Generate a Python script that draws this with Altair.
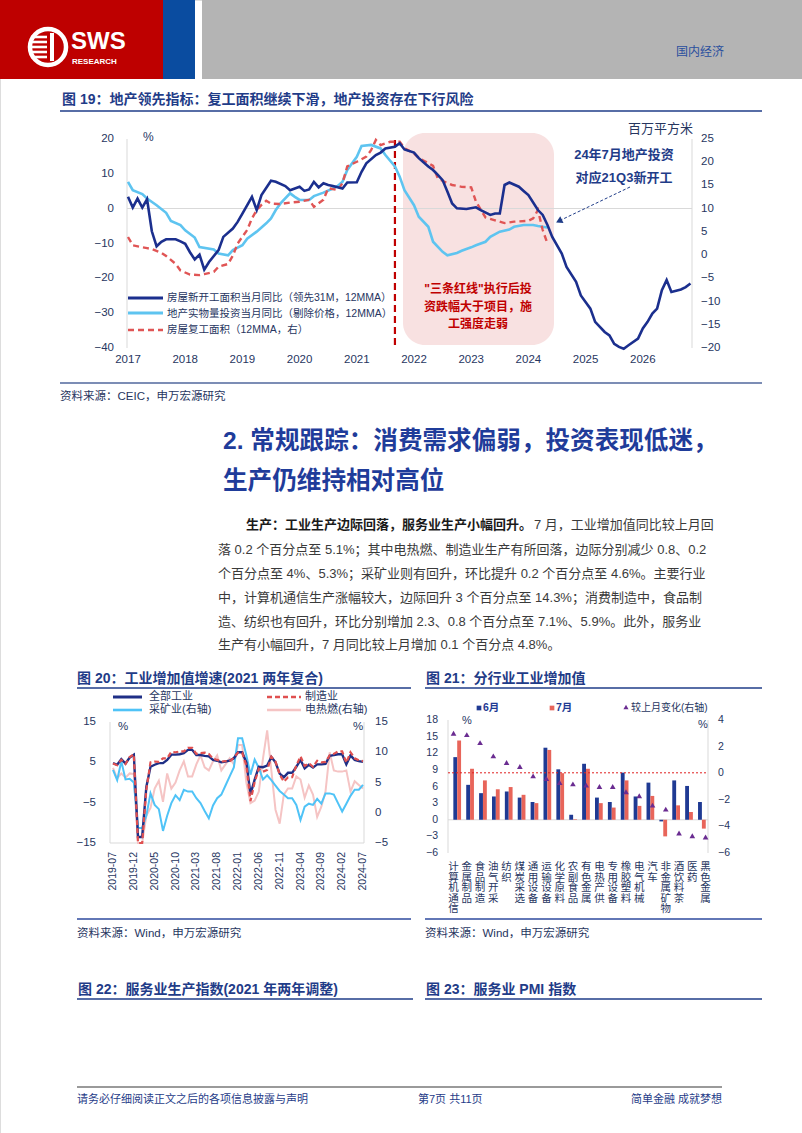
import altair as alt
import pandas as pd

FONT = "Liberation Sans, Noto Sans CJK SC, sans-serif"
TITLE_C = "#1F3C88"
LBL_C = "#27365F"
GRID_C = "#D9D9D9"

# ---------------- Figure 19 data ----------------
f19_new_dates = ["2017-01", "2017-02", "2017-03", "2017-04", "2017-05", "2017-06", "2017-07", "2017-08", "2017-09",
                 "2017-11", "2017-12", "2018-01", "2018-02", "2018-03", "2018-04", "2018-05", "2018-06", "2018-08",
                 "2018-09", "2018-11", "2018-12", "2019-01", "2019-03", "2019-04", "2019-05", "2019-07", "2019-08",
                 "2019-10", "2019-11", "2020-01", "2020-02", "2020-03", "2020-04", "2020-05", "2020-06", "2020-07",
                 "2020-08", "2020-10", "2020-11", "2021-01", "2021-02", "2021-03", "2021-05", "2021-06", "2021-07",
                 "2021-09", "2021-10", "2021-11", "2022-01", "2022-02", "2022-04", "2022-05", "2022-06", "2022-07",
                 "2022-08", "2022-09", "2022-10", "2022-12", "2023-02", "2023-03", "2023-05", "2023-06", "2023-07",
                 "2023-08", "2023-09", "2023-11", "2023-12", "2024-01", "2024-03", "2024-04", "2024-05", "2024-06",
                 "2024-08", "2024-09", "2024-11", "2024-12", "2025-02", "2025-03", "2025-05", "2025-06", "2025-07",
                 "2025-08", "2025-09", "2025-10", "2025-12", "2026-01", "2026-02", "2026-03", "2026-04", "2026-05",
                 "2026-06", "2026-07", "2026-09", "2026-10", "2026-11"]
f19_new_vals = [3.4, 0.3, 2.9, 0.3, 2.7, -6.5, -10.8, -9.5, -8.8,
                -8.8, -9.4, -10.1, -12.5, -14.6, -13.2, -17.5, -15.3, -11.9,
                -8.1, -5.7, -3.8, -1.4, 3.4, -0.4, 3.9, 8.0, 7.7,
                6.5, 5.3, 6.3, 5.1, 5.5, 7.7, 6.1, 7.3, 6.8,
                6.5, 5.8, 7.5, 7.6, 10.6, 13.0, 15.4, 16.1, 17.3,
                17.8, 18.8, 17.0, 16.1, 14.5, 12.1, 11.1, 9.7, 8.2,
                4.9, 1.5, 0.1, -0.1, 0.4, -0.4, -1.8, -1.4, -1.4,
                6.8, 7.5, 6.3, 5.1, 3.9, -0.4, -1.8, -4.7, -8.1,
                -12.9, -16.7, -21.0, -24.9, -28.7, -32.5, -35.4, -36.4, -38.8,
                -39.7, -40.2, -39.2, -37.3, -34.4, -32.5, -30.1, -28.7, -23.4,
                -20.5, -23.9, -23.2, -22.5, -21.5]

f19_inv_dates = ["2017-01", "2017-02", "2017-04", "2017-05", "2017-07", "2017-09", "2017-10", "2017-12", "2018-01",
                 "2018-03", "2018-04", "2018-07", "2018-08", "2018-10", "2018-11", "2019-01", "2019-02", "2019-04",
                 "2019-06", "2019-07", "2019-08", "2019-09", "2019-11", "2019-12", "2020-01", "2020-03", "2020-04",
                 "2020-06", "2020-08", "2020-09", "2020-10", "2020-11", "2021-01", "2021-02", "2021-04", "2021-06",
                 "2021-07", "2021-09", "2021-10", "2021-11", "2022-01", "2022-02", "2022-04", "2022-05", "2022-07",
                 "2022-08", "2022-10", "2022-11", "2023-01", "2023-02", "2023-04", "2023-05", "2023-07", "2023-09",
                 "2023-10", "2023-12", "2024-02", "2024-03", "2024-05"]
f19_inv_vals = [7.7, 5.3, 4.2, 2.9, 1.0, -1.2, -3.5, -4.7, -6.2,
                -8.3, -11.0, -11.7, -12.9, -13.4, -11.9, -10.5, -8.6, -6.6,
                -4.2, -2.8, -0.4, 1.5, 4.4, 3.4, 2.5, 2.5, 3.6,
                4.6, 5.8, 6.5, 7.7, 11.1, 14.9, 18.0, 18.3, 17.3,
                15.4, 12.1, 9.2, 5.3, 1.0, -2.3, -5.2, -9.5, -12.4,
                -13.4, -12.7, -12.1, -11.1, -10.5, -9.5, -8.1, -6.6, -6.0,
                -5.2, -4.7, -4.7, -5.0, -5.4]

f19_res_dates = ["2017-01", "2017-02", "2017-05", "2017-06", "2017-08", "2017-09", "2017-11", "2017-12", "2018-02",
                 "2018-04", "2018-05", "2018-07", "2018-08", "2018-10", "2018-11", "2018-12", "2019-02", "2019-03",
                 "2019-04", "2019-05", "2019-06", "2019-07", "2019-09", "2019-11", "2020-01", "2020-03", "2020-04",
                 "2020-06", "2020-07", "2020-09", "2020-10", "2020-11", "2021-01", "2021-03", "2021-04", "2021-05",
                 "2021-06", "2021-08", "2021-10", "2021-11", "2022-01", "2022-02", "2022-04", "2022-05", "2022-06",
                 "2022-08", "2022-09", "2022-11", "2023-01", "2023-02", "2023-04", "2023-06", "2023-08", "2023-10",
                 "2024-01", "2024-02", "2024-03", "2024-04", "2024-05"]
f19_res_vals = [3.9, 2.1, 1.5, 1.3, 0.5, -0.2, -1.9, -3.3, -4.2,
                -4.3, -4.1, -3.6, -2.5, -1.9, -0.1, 2.5, 5.4, 7.9,
                9.7, 10.8, 11.7, 11.1, 11.0, 11.3, 11.5, 11.9, 10.4,
                11.9, 14.4, 14.0, 15.5, 19.1, 20.1, 21.2, 22.6, 24.8,
                23.7, 24.4, 24.4, 23.0, 21.9, 20.9, 19.8, 19.2, 16.5,
                15.5, 15.1, 14.7, 14.6, 11.5, 8.1, 7.5, 6.9, 7.2,
                7.4, 7.9, 9.7, 5.4, 2.5]

f19_policy_date = ["2021-09"]
f19_years = [2017, 2018, 2019, 2020, 2021, 2022, 2023, 2024, 2025, 2026]
f19_left_ticks = [20, 10, 0, -10, -20, -30, -40]
f19_right_ticks = [25, 20, 15, 10, 5, 0, -5, -10, -15, -20]

# ---------------- Figure 20 data ----------------
f20_months = [str(p) for p in pd.period_range("2019-07", "2024-07", freq="M")]
f20_total = [4.8, 4.4, 5.8, 4.7, 6.2, 6.9,
             -13.5, -13.5, -1.1, 3.9, 4.4, 4.8, 4.8, 5.6, 6.9, 6.9, 7.0, 7.3,
             8.1, 8.1, 6.8, 6.8, 6.6, 6.5, 5.6, 5.4, 5.0, 5.2, 5.4, 6.0,
             7.5, 7.5, 5.0, -2.9, 0.7, 3.9, 3.8, 4.2, 6.3, 5.0, 2.2, 1.3,
             2.4, 2.4, 3.9, 5.6, 3.5, 4.4, 3.7, 4.5, 4.5, 4.6, 6.6, 6.8,
             7.0, 7.0, 4.5, 6.7, 5.6, 5.3, 5.1]
f20_manu = [4.7, 4.3, 5.6, 4.6, 6.3, 7.0,
            -15.0, -15.0, -1.8, 5.0, 5.2, 5.1, 6.0, 6.0, 7.6, 7.5, 7.7, 7.7,
            8.6, 8.6, 7.1, 7.3, 7.4, 7.1, 5.9, 5.6, 5.2, 5.3, 5.2, 6.2,
            7.4, 7.4, 4.2, -4.6, 0.1, 3.4, 2.7, 3.1, 6.4, 5.2, 2.0, 0.2,
            1.3, 1.3, 4.2, 6.5, 4.1, 4.8, 3.9, 5.4, 5.0, 5.1, 6.7, 7.1,
            7.7, 7.7, 4.9, 7.5, 6.0, 5.5, 5.3]
f20_mining = [7.1, 5.4, 8.5, 5.5, 5.6, 5.0,
              -2.5, -2.5, -0.5, 3.2, 1.3, 0.6, -3.0, -0.5, 1.6, 2.9, 2.1, 3.8,
              3.5, 3.5, 2.4, 1.6, 0.3, -0.9, 1.2, 2.4, 3.0, 4.5, 6.0, 7.5,
              12.3, 12.3, 9.5, 6.3, 8.8, 7.4, 5.5, 6.2, 5.4, 4.5, 3.6, 3.0,
              2.4, 2.4, 1.3, -1.2, 1.0, 1.5, 1.3, 2.3, 1.5, 3.2, 3.2, 3.0,
              1.6, 0.2, 1.5, 2.8, 3.8, 3.8, 4.6]
f20_power = [7.4, 5.7, 6.5, 5.8, 6.5, 6.4,
             -5.0, -5.0, -0.5, 0.8, 4.0, 5.3, 1.8, 6.5, 4.0, 5.0, 7.0, 8.5,
             6.0, 6.0, 8.0, 9.5, 7.5, 7.0, 8.5, 9.5, 7.0, 8.0, 9.0, 8.0,
             11.2, 11.2, 5.0, 1.6, 2.0, 3.5, 9.0, 13.6, 7.0, 0.5, -1.8, 3.0,
             4.0, 4.0, 6.0, 5.5, 2.5, 4.5, 3.0, -0.7, 1.0, 3.5, 10.0, 7.0,
             6.8, 6.8, 7.0, 3.5, 5.2, 4.6, 4.0]
f20_left_ticks = [15, 5, -5, -15]
f20_right_ticks = [15, 10, 5, 0, -5]

# ---------------- Figure 21 data ----------------
f21_cats = ["计算机通信", "金属制品", "食品制造", "油气开采", "纺织", "煤炭采选", "通用设备", "运输设备",
            "化学原料", "农副食品", "有色金属", "电热产供", "专用设备", "橡胶塑料", "电气机械", "汽车",
            "非金属矿物", "酒饮料茶", "医药", "黑色金属"]
f21_june = [11.3, 6.3, 4.8, 4.2, 5.1, 4.0, 3.2, 13.0, 9.1, 0.9, 10.1, 4.0, 3.2, 8.5, 4.2, 6.7, -0.3, 7.1, 6.1, 3.2]
f21_july = [14.3, 9.2, 7.1, 5.5, 5.9, 4.5, 3.0, 12.6, 8.4, 0.1, 9.2, 3.0, 2.2, 7.1, 2.5, 4.3, -3.0, 2.6, 1.4, -1.6]
f21_chg = [3.0, 2.9, 2.3, 1.3, 0.8, 0.5, -0.2, -0.4, -0.7, -0.8, -0.9, -1.0, -1.0, -1.4, -1.7, -2.4, -2.7, -4.5,
           -4.7, -4.8]
f21_left_ticks = [18, 15, 12, 9, 6, 3, 0, -3, -6]
f21_right_ticks = [4, 2, 0, -2, -4, -6]

# ---------------- page text ----------------
heading_lines = ["2. 常规跟踪：消费需求偏弱，投资表现低迷，", "生产仍维持相对高位"]
para_bold = "生产：工业生产边际回落，服务业生产小幅回升。"
para_lines = [
    "7 月，工业增加值同比较上月回",
    "落 0.2 个百分点至 5.1%；其中电热燃、制造业生产有所回落，边际分别减少 0.8、0.2",
    "个百分点至 4%、5.3%；采矿业则有回升，环比提升 0.2 个百分点至 4.6%。主要行业",
    "中，计算机通信生产涨幅较大，边际回升 3 个百分点至 14.3%；消费制造中，食品制",
    "造、纺织也有回升，环比分别增加 2.3、0.8 个百分点至 7.1%、5.9%。此外，服务业",
    "生产有小幅回升，7 月同比较上月增加 0.1 个百分点 4.8%。",
]


def ym(s):
    y, m = s.split("-")
    return int(y) + (int(m) - 1) / 12.0


def one():
    return pd.DataFrame({"a": [0]})


def text(s, x, y, size=12, color=LBL_C, weight="normal", align="left", baseline="middle", font=FONT):
    return alt.Chart(pd.DataFrame({"t": [s]})).mark_text(
        font=font, fontSize=size, color=color, fontWeight=weight, align=align, baseline=baseline
    ).encode(x=alt.value(x), y=alt.value(y), text="t:N")


def rect(x, x2, y, y2, color, **kw):
    return alt.Chart(one()).mark_rect(color=color, **kw).encode(
        x=alt.value(x), x2=alt.value(x2), y=alt.value(y), y2=alt.value(y2))


def hline(x, x2, y, color, width=1.0, dash=None):
    kw = {"strokeDash": dash} if dash else {}
    return alt.Chart(one()).mark_rule(color=color, strokeWidth=width, **kw).encode(
        x=alt.value(x), x2=alt.value(x2), y=alt.value(y))


def vline(x, y, y2, color, width=1.0, dash=None):
    kw = {"strokeDash": dash} if dash else {}
    return alt.Chart(one()).mark_rule(color=color, strokeWidth=width, **kw).encode(
        x=alt.value(x), y=alt.value(y), y2=alt.value(y2))


L = []

# ---------------- header ----------------
L += [rect(0, 163, 0, 79, "#BE0000"), rect(163, 195, 0, 79, "#0A4CA0"), rect(202, 802, 0, 79, "#B4B4B4")]
L.append(alt.Chart(one()).mark_point(shape="circle", filled=False, color="white", strokeWidth=4.5,
                                     size=1300, opacity=1).encode(x=alt.value(48), y=alt.value(47)))
for yy in [37, 42, 47, 52, 57]:
    L.append(hline(31, 47, yy, "white", 2.6))
L.append(vline(52, 33, 61, "white", 4))
L.append(text("SWS", 71, 42, size=24, color="white", weight="bold"))
L.append(text("RESEARCH", 72, 62, size=8, color="white", weight="bold"))
L.append(text("国内经济", 724, 52, size=12, color="#2A4F9E", align="right"))

# ---------------- Figure 19 ----------------
L.append(text("图 19：地产领先指标：复工面积继续下滑，地产投资存在下行风险", 62, 100, size=14,
              color=TITLE_C, weight="bold"))
L.append(hline(60, 762, 111, TITLE_C, 1.5))

x19 = alt.Scale(domain=[2017, 2027], range=[128, 700], nice=False, zero=False)
yl19 = alt.Scale(domain=[-40, 20], range=[348, 139], nice=False, zero=False)
yr19 = alt.Scale(domain=[-20, 25], range=[348, 139], nice=False, zero=False)

L.append(rect(403, 554, 133, 345, "#F8E1E1", cornerRadius=22))
L.append(hline(127, 692, 208.5, GRID_C, 1))
L.append(vline(127, 139, 348, GRID_C, 1))
L.append(vline(692, 139, 348, GRID_C, 1))

df_new = pd.DataFrame({"t": [ym(d) for d in f19_new_dates], "v": f19_new_vals})
df_inv = pd.DataFrame({"t": [ym(d) for d in f19_inv_dates], "v": f19_inv_vals})
df_res = pd.DataFrame({"t": [ym(d) for d in f19_res_dates], "v": f19_res_vals})
df_pol = pd.DataFrame({"t": [ym(d) for d in f19_policy_date]})

L.append(alt.Chart(df_pol).mark_rule(color="#C00000", strokeWidth=2.2, strokeDash=[7, 4]).encode(
    x=alt.X("t:Q", scale=x19, axis=None), y=alt.value(140), y2=alt.value(348)))
L.append(alt.Chart(df_inv).mark_line(color="#5EC4F0", strokeWidth=2.6).encode(
    x=alt.X("t:Q", scale=x19, axis=None), y=alt.Y("v:Q", scale=yl19, axis=None)))
L.append(alt.Chart(df_res).mark_line(color="#E05555", strokeWidth=2.4, strokeDash=[6, 4]).encode(
    x=alt.X("t:Q", scale=x19, axis=None), y=alt.Y("v:Q", scale=yr19, axis=None)))
L.append(alt.Chart(df_new).mark_line(color="#1B2F8E", strokeWidth=2.6).encode(
    x=alt.X("t:Q", scale=x19, axis=None), y=alt.Y("v:Q", scale=yl19, axis=None)))

L.append(alt.Chart(pd.DataFrame({"v": f19_left_ticks})).mark_text(
    font=FONT, fontSize=11.5, color=LBL_C, align="right", baseline="middle").encode(
    x=alt.value(114), y=alt.Y("v:Q", scale=yl19, axis=None), text="v:Q"))
L.append(alt.Chart(pd.DataFrame({"v": f19_right_ticks})).mark_text(
    font=FONT, fontSize=11.5, color=LBL_C, align="left", baseline="middle").encode(
    x=alt.value(701), y=alt.Y("v:Q", scale=yr19, axis=None), text="v:Q"))
L.append(alt.Chart(pd.DataFrame({"yr": f19_years})).mark_text(
    font=FONT, fontSize=11.5, color=LBL_C, align="center", baseline="middle").encode(
    x=alt.X("yr:Q", scale=x19, axis=None), y=alt.value(360), text="yr:N"))
L.append(text("%", 143, 137, size=12))
L.append(text("百万平方米", 693, 129, size=13, align="right"))

# annotations
L.append(text("\"三条红线\"执行后投", 478, 289, size=12, color="#C00000", weight="bold", align="center"))
L.append(text("资跌幅大于项目，施", 478, 307, size=12, color="#C00000", weight="bold", align="center"))
L.append(text("工强度走弱", 478, 324, size=12, color="#C00000", weight="bold", align="center"))
L.append(text("24年7月地产投资", 624, 155, size=13, color=TITLE_C, weight="bold", align="center"))
L.append(text("对应21Q3新开工", 624, 178, size=13, color=TITLE_C, weight="bold", align="center"))
L.append(alt.Chart(one()).mark_rule(color=TITLE_C, strokeWidth=1, strokeDash=[3, 2]).encode(
    x=alt.value(630), y=alt.value(187), x2=alt.value(561), y2=alt.value(220)))
L.append(alt.Chart(one()).mark_point(shape="triangle-up", filled=True, color=TITLE_C, size=55, angle=244,
                                     opacity=1).encode(x=alt.value(559), y=alt.value(221)))

# legend
L.append(hline(128, 163, 298, "#1B2F8E", 3))
L.append(hline(128, 163, 313, "#5EC4F0", 3))
L.append(hline(128, 163, 330, "#E05555", 2.6, [6, 4]))
L.append(text("房屋新开工面积当月同比（领先31M，12MMA）", 167, 298, size=10.5))
L.append(text("地产实物量投资当月同比（剔除价格，12MMA）", 167, 314, size=10.5))
L.append(text("房屋复工面积（12MMA，右）", 167, 330, size=10.5))

L.append(hline(60, 762, 383, "#7C8DB5", 2))
L.append(text("资料来源：CEIC，申万宏源研究", 60, 397, size=11.5))

# ---------------- heading + paragraph ----------------
L.append(text(heading_lines[0], 223, 442, size=24.6, color="#1F3C9A", weight="bold"))
L.append(text(heading_lines[1], 223, 482, size=24.6, color="#1F3C9A", weight="bold"))
L.append(text(para_bold, 246, 525, size=13, color="#1A1A1A", weight="bold"))
para_y = [525, 550, 574, 598, 622, 645]
for i, line in enumerate(para_lines):
    L.append(text(line, 534 if i == 0 else 218, para_y[i], size=13, color="#3A3A3A"))

# ---------------- Figure 20 ----------------
L.append(text("图 20：工业增加值增速(2021 两年复合)", 77, 679, size=14, color=TITLE_C, weight="bold"))
L.append(hline(77, 411, 688, TITLE_C, 1.5))

x20 = alt.Scale(domain=[0, 60], range=[113, 363], nice=False, zero=False)
yl20 = alt.Scale(domain=[-15, 15], range=[843, 722], nice=False, zero=False)
yr20 = alt.Scale(domain=[-5, 15], range=[843, 722], nice=False, zero=False)

L.append(vline(110, 722, 843, GRID_C, 1))
L.append(vline(364, 722, 843, GRID_C, 1))
L.append(hline(110, 364, 843, GRID_C, 1))

df20 = pd.DataFrame({"i": list(range(len(f20_months))), "m": f20_months, "total": f20_total,
                     "manu": f20_manu, "mining": f20_mining, "power": f20_power})
L.append(alt.Chart(df20).mark_line(color="#F5C4C4", strokeWidth=2).encode(
    x=alt.X("i:Q", scale=x20, axis=None), y=alt.Y("power:Q", scale=yr20, axis=None)))
L.append(alt.Chart(df20).mark_line(color="#4FC3F7", strokeWidth=2).encode(
    x=alt.X("i:Q", scale=x20, axis=None), y=alt.Y("mining:Q", scale=yr20, axis=None)))
L.append(alt.Chart(df20).mark_line(color="#1F2F86", strokeWidth=2.4).encode(
    x=alt.X("i:Q", scale=x20, axis=None), y=alt.Y("total:Q", scale=yl20, axis=None)))
L.append(alt.Chart(df20).mark_line(color="#E05050", strokeWidth=2.2, strokeDash=[5, 3]).encode(
    x=alt.X("i:Q", scale=x20, axis=None), y=alt.Y("manu:Q", scale=yl20, axis=None)))

L.append(alt.Chart(pd.DataFrame({"v": f20_left_ticks})).mark_text(
    font=FONT, fontSize=11.5, color=LBL_C, align="right", baseline="middle").encode(
    x=alt.value(96), y=alt.Y("v:Q", scale=yl20, axis=None), text="v:Q"))
L.append(alt.Chart(pd.DataFrame({"v": f20_right_ticks})).mark_text(
    font=FONT, fontSize=11.5, color=LBL_C, align="left", baseline="middle").encode(
    x=alt.value(375), y=alt.Y("v:Q", scale=yr20, axis=None), text="v:Q"))
df20t = df20.iloc[::5]
L.append(alt.Chart(df20t).mark_text(font=FONT, fontSize=10.5, color=LBL_C, align="right", baseline="middle",
                                    angle=270).encode(
    x=alt.X("i:Q", scale=x20, axis=None), y=alt.value(852), text="m:N"))
L.append(text("%", 118, 727, size=11.5))
L.append(text("%", 353, 727, size=11.5))

L.append(hline(113, 142, 697, "#1F2F86", 3))
L.append(hline(267, 301, 697, "#E05050", 2.6, [5, 3]))
L.append(hline(113, 142, 710, "#4FC3F7", 2.6))
L.append(hline(267, 301, 710, "#F5C4C4", 2.6))
L.append(text("全部工业", 149, 697, size=11))
L.append(text("制造业", 305, 697, size=11))
L.append(text("采矿业(右轴)", 149, 710, size=11))
L.append(text("电热燃(右轴)", 305, 710, size=11))

L.append(hline(77, 411, 919, "#2E4A9E", 1.5))
L.append(text("资料来源：Wind，申万宏源研究", 77, 934, size=11.5))

# ---------------- Figure 21 ----------------
L.append(text("图 21：分行业工业增加值", 426, 679, size=14, color=TITLE_C, weight="bold"))
L.append(hline(425, 762, 688, TITLE_C, 1.5))

x21 = alt.Scale(domain=f21_cats, range=[446.9, 712.2], paddingInner=0.4, paddingOuter=0.5)
yl21 = alt.Scale(domain=[-6, 18], range=[853, 720], nice=False)
yr21 = alt.Scale(domain=[-6, 4], range=[853, 720], nice=False, zero=False)

L.append(vline(448, 720, 853, GRID_C, 1))
L.append(vline(708, 720, 853, GRID_C, 1))
L.append(hline(448, 708, 819.8, GRID_C, 1))

df21 = pd.DataFrame({"cat": f21_cats * 2, "mon": ["6月"] * len(f21_cats) + ["7月"] * len(f21_cats),
                     "v": f21_june + f21_july})
L.append(alt.Chart(df21).mark_bar().encode(
    x=alt.X("cat:N", scale=x21, axis=None, sort=None),
    xOffset=alt.XOffset("mon:N", scale=alt.Scale(domain=["6月", "7月"], paddingInner=0, paddingOuter=0)),
    y=alt.Y("v:Q", scale=yl21, axis=None), y2=alt.datum(0),
    color=alt.Color("mon:N", scale=alt.Scale(domain=["6月", "7月"], range=["#1F3A93", "#E8655A"]), legend=None)))
L.append(hline(448, 708, 772.8, "#E02020", 1, [2, 2]))
df21c = pd.DataFrame({"cat": f21_cats, "chg": f21_chg, "lbl": ["\n".join(c) for c in f21_cats]})
L.append(alt.Chart(df21c).mark_point(shape="triangle-up", filled=True, color="#6A2C91", size=32,
                                     opacity=1).encode(
    x=alt.X("cat:N", scale=x21, axis=None, sort=None), y=alt.Y("chg:Q", scale=yr21, axis=None)))
L.append(alt.Chart(df21c).mark_text(font=FONT, fontSize=10.5, color=LBL_C, align="center", baseline="top",
                                    lineBreak="\n", lineHeight=10.6).encode(
    x=alt.X("cat:N", scale=x21, axis=None, sort=None), y=alt.value(862), text="lbl:N"))

L.append(alt.Chart(pd.DataFrame({"v": f21_left_ticks})).mark_text(
    font=FONT, fontSize=10.5, color=LBL_C, align="right", baseline="middle").encode(
    x=alt.value(438), y=alt.Y("v:Q", scale=yl21, axis=None), text="v:Q"))
L.append(alt.Chart(pd.DataFrame({"v": f21_right_ticks})).mark_text(
    font=FONT, fontSize=10.5, color=LBL_C, align="left", baseline="middle").encode(
    x=alt.value(718), y=alt.Y("v:Q", scale=yr21, axis=None), text="v:Q"))
L.append(text("%", 462, 721, size=11))
L.append(text("%", 698, 725, size=11))

L.append(alt.Chart(one()).mark_square(color="#1F3A93", size=22, opacity=1).encode(
    x=alt.value(479), y=alt.value(708)))
L.append(text("6月", 483, 708, size=10.5, color="#1F3A93", weight="bold"))
L.append(alt.Chart(one()).mark_square(color="#E8655A", size=22, opacity=1).encode(
    x=alt.value(552), y=alt.value(708)))
L.append(text("7月", 556, 708, size=10.5, color="#1F3A93", weight="bold"))
L.append(alt.Chart(one()).mark_point(shape="triangle-up", filled=True, color="#6A2C91", size=26,
                                     opacity=1).encode(x=alt.value(626), y=alt.value(707)))
L.append(text("较上月变化(右轴)", 631, 708, size=10))

L.append(hline(425, 762, 919, "#2E4A9E", 1.5))
L.append(text("资料来源：Wind，申万宏源研究", 425, 934, size=11.5))

# ---------------- Figures 22/23 titles + footer ----------------
L.append(text("图 22：服务业生产指数(2021 年两年调整)", 78, 990, size=14, color=TITLE_C, weight="bold"))
L.append(hline(77, 413, 999, TITLE_C, 1.5))
L.append(text("图 23：服务业 PMI 指数", 426, 990, size=14, color=TITLE_C, weight="bold"))
L.append(hline(425, 762, 999, TITLE_C, 1.5))

L.append(hline(77, 722, 1087, "#9A9A9A", 2))
L.append(text("请务必仔细阅读正文之后的各项信息披露与声明", 77, 1100, size=11, color="#1F3C88"))
L.append(text("第7页 共11页", 418, 1100, size=11, color="#1F3C88"))
L.append(text("简单金融 成就梦想", 722, 1100, size=11, color="#1F3C88", align="right"))

chart = alt.layer(*L).resolve_scale(
    x="independent", y="independent", color="independent"
).properties(
    width=802, height=1133, autosize=alt.AutoSizeParams(type="none"), padding=0
).configure_view(stroke=None).configure(background="white")

chart.save("out.html", embed_options={"renderer": "svg", "actions": False})
